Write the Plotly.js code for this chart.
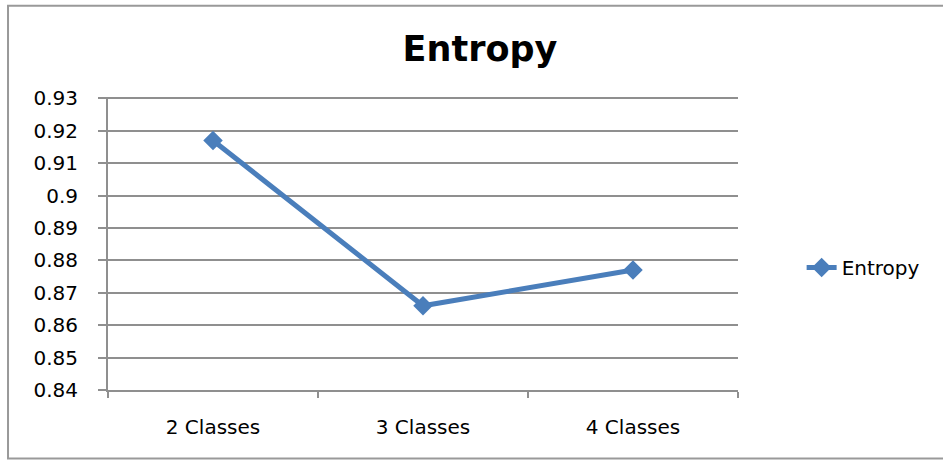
<!DOCTYPE html>
<html>
<head>
<meta charset="utf-8">
<script src="https://cdn.plot.ly/plotly-3.0.1.min.js"></script>
<style>html,body{margin:0;padding:0;background:#fff;}#chart{width:943px;height:460px;}</style>
</head>
<body>
<div id="chart"></div>
<script>
const categories = ['2 Classes', '3 Classes', '4 Classes'];
const entropyValues = [0.917, 0.866, 0.877];
const yTickValues = [0.84, 0.85, 0.86, 0.87, 0.88, 0.89, 0.9, 0.91, 0.92, 0.93];
const yTickLabels = ['0.84', '0.85', '0.86', '0.87', '0.88', '0.89', '0.9', '0.91', '0.92', '0.93'];

const font = 'DejaVu Sans, Verdana, sans-serif';
const gray = '#8f8f8f';

const trace = {
  x: categories,
  y: entropyValues,
  type: 'scatter',
  mode: 'lines+markers',
  name: 'Entropy',
  line: {color: '#4A7EBB', width: 5},
  marker: {symbol: 'diamond', size: 15, color: '#4A7EBB'}
};

const layout = {
  width: 943,
  height: 460,
  margin: {l: 108, r: 205, t: 97, b: 70},
  paper_bgcolor: '#ffffff',
  plot_bgcolor: '#ffffff',
  title: {
    text: '<b>Entropy</b>',
    font: {family: font, size: 35, color: '#000000'},
    x: 0.509, xanchor: 'center',
    y: 0.895, yanchor: 'middle'
  },
  xaxis: {
    type: 'category',
    range: [-0.5, 2.5],
    showgrid: false,
    showline: true,
    linecolor: gray,
    linewidth: 2,
    ticks: 'outside',
    tickson: 'boundaries',
    ticklen: 6,
    tickcolor: gray,
    tickwidth: 2,
    tickfont: {family: font, size: 20, color: '#000000'},
    ticklabelstandoff: 18,
    fixedrange: true
  },
  yaxis: {
    range: [0.84, 0.9304],
    tickvals: yTickValues,
    ticktext: yTickLabels,
    showgrid: true,
    gridcolor: gray,
    gridwidth: 2,
    showline: true,
    linecolor: gray,
    linewidth: 2,
    ticks: 'outside',
    ticklen: 8,
    tickcolor: gray,
    tickwidth: 2,
    zeroline: false,
    tickfont: {family: font, size: 20, color: '#000000'},
    ticklabelstandoff: 16,
    fixedrange: true
  },
  showlegend: true,
  legend: {
    x: 1.101, xanchor: 'left',
    y: 0.418, yanchor: 'middle',
    font: {family: font, size: 20, color: '#000000'},
    bgcolor: 'rgba(0,0,0,0)'
  },
  shapes: [{
    type: 'rect', xref: 'paper', yref: 'paper',
    x0: -0.1587, x1: 1.36, y0: -0.234, y1: 1.3116,
    line: {color: '#999999', width: 2},
    fillcolor: 'rgba(0,0,0,0)',
    layer: 'below'
  }]
};

Plotly.newPlot('chart', [trace], layout, {displayModeBar: false, staticPlot: true});
</script>
</body>
</html>
